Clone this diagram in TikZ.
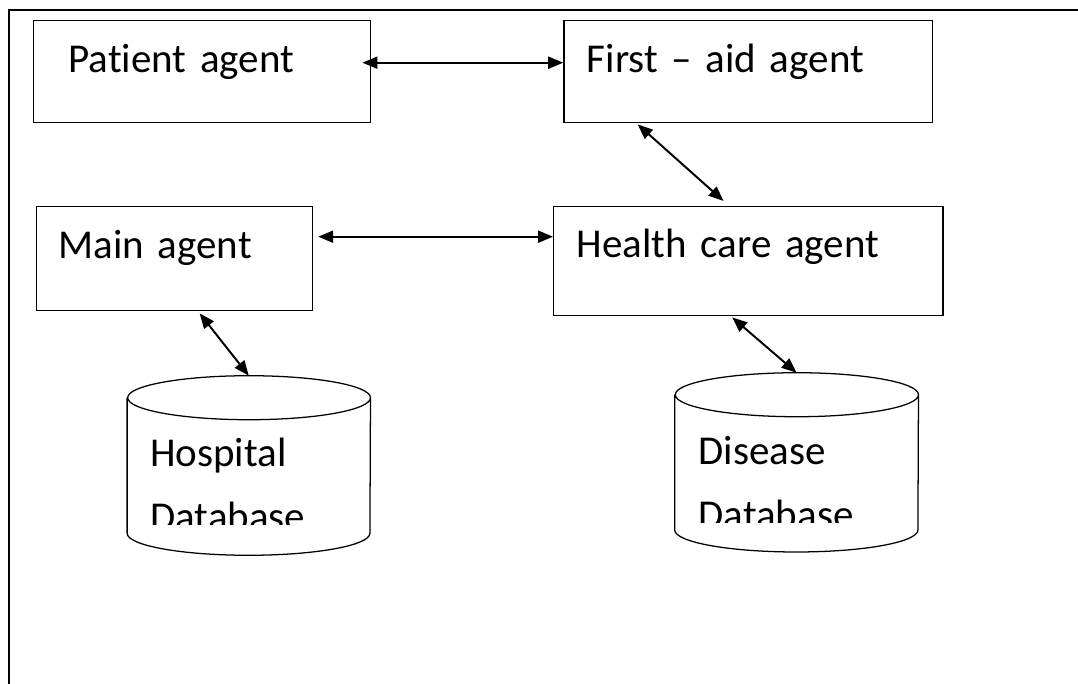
\documentclass[tikz,border=0pt]{standalone}
\usepackage{fontspec}
\setmainfont{Carlito}[Ligatures=CommonOff]
\usetikzlibrary{arrows.meta}
\tikzset{
	agent/.style={draw, line width=1pt, anchor=north west, inner ysep=0pt, align=left,
		font=\fontsize{1.025cm}{1.2cm}\selectfont},
	store/.style={inner sep=0pt},
	dbline/.style={line width=0.9pt},
	dblabel/.style={anchor=base west, inner sep=0pt, text width=5cm, align=left,
		font=\fontsize{1.025cm}{1.5875cm}\selectfont},
	link/.style={line width=1.4pt, {Triangle[length=0.375cm,width=0.3cm]}-{Triangle[length=0.375cm,width=0.3cm]}},
}
\begin{document}
\begin{tikzpicture}
	\useasboundingbox (0,0) rectangle (26.95,-17.1);
	\draw[line width=1.4pt] (0.215,-17.1) -- (0.215,-0.25) -- (26.95,-0.25);
	% agents
	\node[agent, inner xsep=0.8675cm, text width=6.69cm, text height=1.2925cm, text depth=1.2575cm] (pat) at (0.825,-0.5) {Patient agent};
	\node[agent, inner xsep=0.575cm, text width=8.065cm, text height=1.2925cm, text depth=1.2575cm] (fa) at (14.08,-0.5) {First -- aid agent};
	\node[agent, inner xsep=0.5525cm, text width=5.79cm, text height=1.3cm, text depth=1.3cm] (main) at (0.895,-5.15) {Main agent};
	\node[agent, inner xsep=0.575cm, text width=8.58cm, text height=1.275cm, text depth=1.45cm] (hc) at (13.825,-5.15) {Health care agent};
	% databases
	\node[store, minimum width=6.07cm, minimum height=4.475cm] (hdb) at (6.22,-11.6375) {};
	\node[store, minimum width=6.08cm, minimum height=4.4675cm] (ddb) at (19.915,-11.559) {};
	\foreach \db/\rx in {hdb/3.035, ddb/3.04}
		\draw[dbline] ([yshift=-0.55cm]\db.north west) -- ([yshift=0.55cm]\db.south west)
			arc[start angle=180, end angle=360, x radius=\rx cm, y radius=0.55cm]
			-- ([yshift=-0.55cm]\db.north east)
			arc[start angle=0, end angle=360, x radius=\rx cm, y radius=0.55cm];
	\begin{scope}
		\clip (3,-10) rectangle (9,-13.125) (16.9,-10) rectangle (22.8,-13.0675);
		\node[dblabel] (hdbtext) at (3.75,-11.6675) {Hospital\\Database};
		\node[dblabel] (ddbtext) at (17.4575,-11.625) {Disease\\Database};
	\end{scope}
	% links
	\draw[link] ([xshift=-0.225cm,yshift=0.225cm]pat.east) -- ([yshift=0.225cm]fa.west);
	\draw[link] ([xshift=1.8625cm,yshift=-0.025cm]fa.south west) -- ([xshift=4.265cm,yshift=0.125cm]hc.north west);
	\draw[link] ([xshift=0.13cm,yshift=0.55cm]main.east) -- ([yshift=0.55cm]main.east -| hc.west);
	\draw[link] ([xshift=4.0975cm,yshift=-0.05cm]main.south west) -- (hdb.north);
	\draw[link] ([xshift=4.48cm,yshift=-0.025cm]hc.south west) -- (ddb.north);
\end{tikzpicture}
\end{document}
